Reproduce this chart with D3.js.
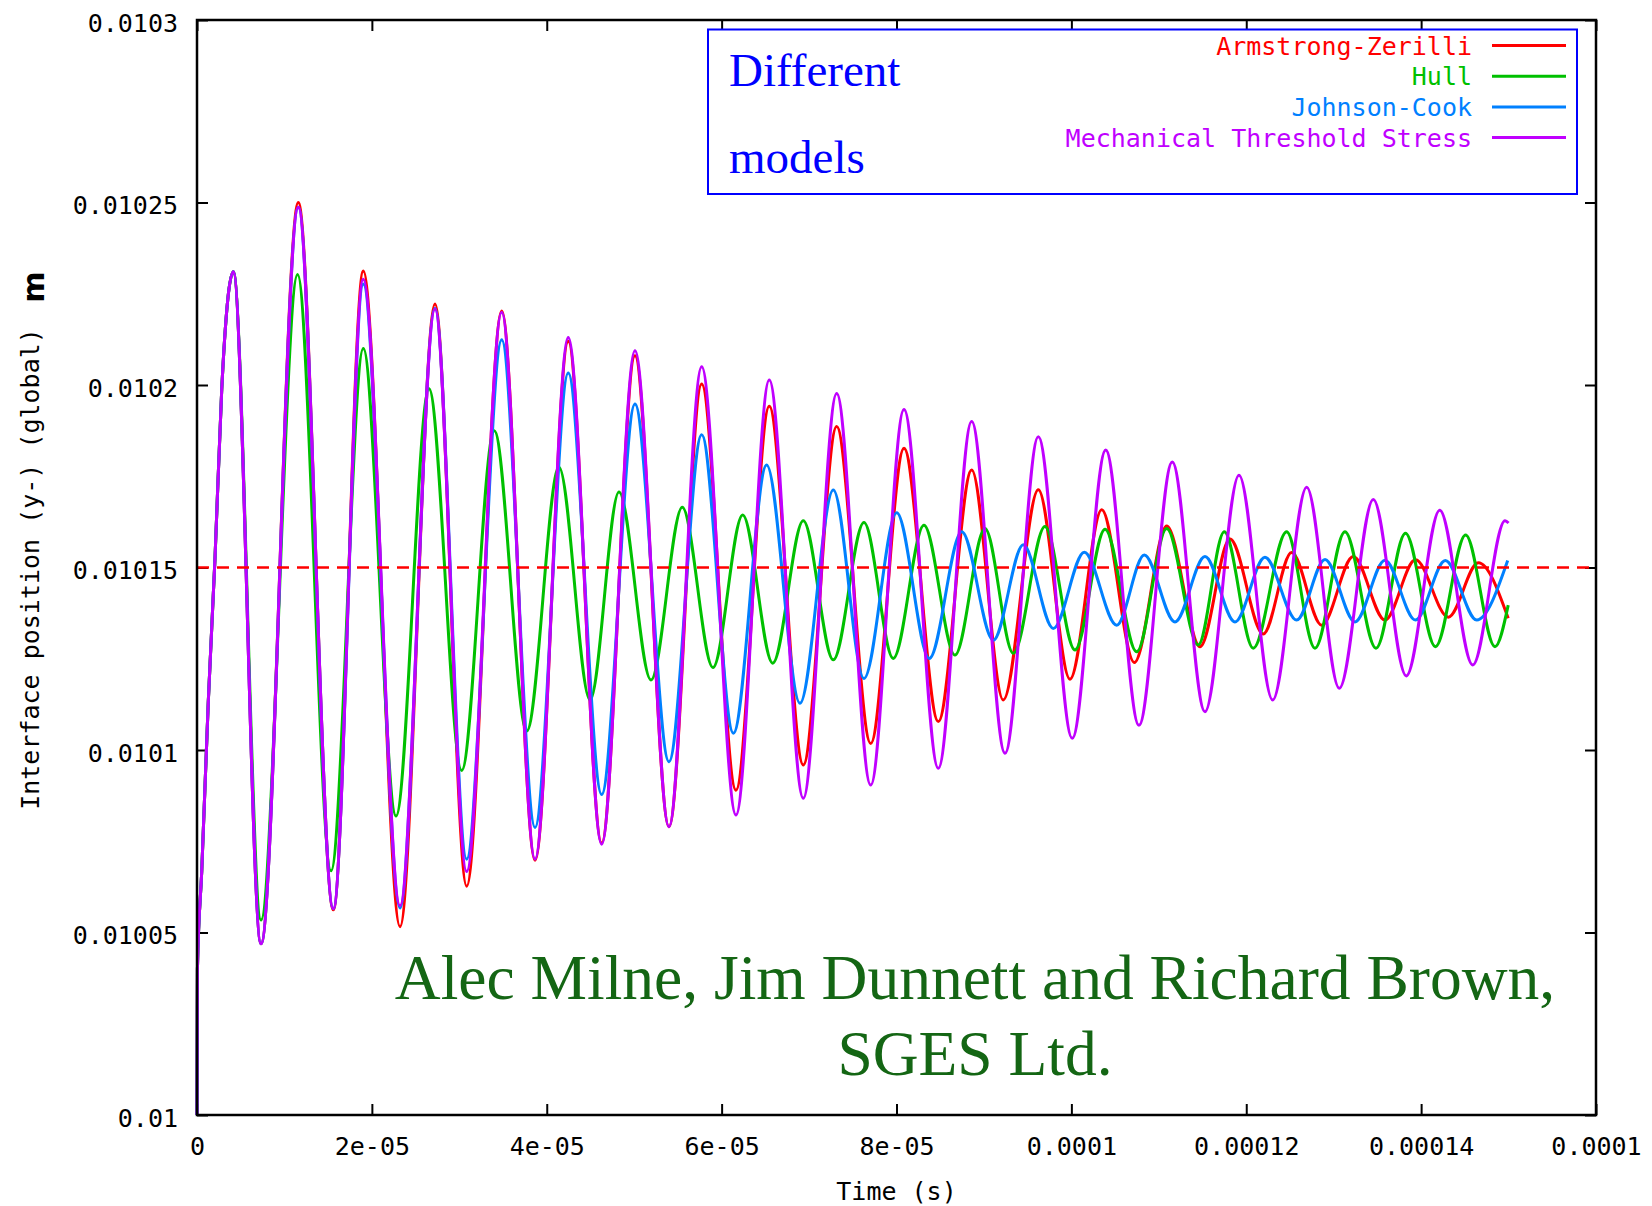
<!DOCTYPE html>
<html>
<head>
<meta charset="utf-8">
<script src="https://cdn.jsdelivr.net/npm/d3@7"></script>
<style>
  body { margin: 0; background: #fff; }
  text { font-family: "DejaVu Sans Mono", monospace; }
</style>
</head>
<body>
<div id="chart"></div>
<script>

// times in microseconds, values in metres (extrema)
var riseUs = [[0, 0.01000], [0.05, 0.01004], [0.54, 0.0100667], [1.29, 0.0101132], [2.06, 0.0101526], [2.83, 0.0101989]];

var armstrongZerilli = [
  [4.15, 0.0102310], [7.32, 0.0100469], [11.59, 0.0102500], [15.59, 0.0100562],
  [19.02, 0.0102312], [23.22, 0.0100516], [27.22, 0.0102222], [30.84, 0.0100627],
  [34.85, 0.0102203], [38.66, 0.0100698], [42.46, 0.0102120], [46.28, 0.0100745],
  [50.09, 0.0102080], [53.98, 0.0100790], [57.72, 0.0102003], [61.64, 0.0100890],
  [65.45, 0.0101942], [69.34, 0.0100959], [73.16, 0.0101886], [77.05, 0.0101018],
  [80.86, 0.0101827], [84.78, 0.0101078], [88.60, 0.0101767], [92.21, 0.0101137],
  [96.22, 0.0101713], [99.84, 0.0101194], [103.47, 0.0101658], [107.20, 0.0101240],
  [110.90, 0.0101614], [114.71, 0.0101283], [118.14, 0.0101578], [121.94, 0.0101318],
  [125.19, 0.0101541], [128.63, 0.0101342], [132.24, 0.0101530], [135.86, 0.0101356],
  [139.35, 0.0101521], [143.11, 0.0101364], [146.54, 0.0101513], [149.96, 0.0101361]
];

var hull = [
  [4.15, 0.0102310], [7.32, 0.0100534], [11.50, 0.0102303], [15.33, 0.0100669],
  [19.02, 0.0102100], [22.76, 0.0100819], [26.53, 0.0101990], [30.27, 0.0100944],
  [34.00, 0.0101875], [37.71, 0.0101052], [41.40, 0.0101775], [44.95, 0.0101137],
  [48.26, 0.0101707], [51.92, 0.0101192], [55.50, 0.0101665], [59.01, 0.0101226],
  [62.41, 0.0101644], [65.84, 0.0101238], [69.34, 0.0101628], [72.77, 0.0101247],
  [76.28, 0.0101623], [79.63, 0.0101251], [83.14, 0.0101616], [86.69, 0.0101260],
  [90.12, 0.0101607], [93.36, 0.0101265], [96.98, 0.0101612], [100.41, 0.0101274],
  [103.85, 0.0101605], [107.47, 0.0101269], [110.90, 0.0101607], [114.51, 0.0101288],
  [117.49, 0.0101598], [120.80, 0.0101279], [124.62, 0.0101598], [127.86, 0.0101279],
  [131.29, 0.0101598], [134.84, 0.0101279], [138.21, 0.0101594], [141.64, 0.0101283],
  [145.09, 0.0101589], [148.45, 0.0101283], [149.96, 0.0101397]
];

var johnsonCook = [
  [4.15, 0.0102310], [7.32, 0.0100469], [11.59, 0.0102487], [15.59, 0.0100565],
  [19.02, 0.0102277], [23.22, 0.0100567], [27.22, 0.0102210], [30.84, 0.0100701],
  [34.85, 0.0102124], [38.66, 0.0100788], [42.46, 0.0102033], [46.28, 0.0100878],
  [50.09, 0.0101948], [53.98, 0.0100968], [57.72, 0.0101864], [61.34, 0.0101046],
  [65.15, 0.0101781], [68.96, 0.0101128], [72.77, 0.0101712], [76.28, 0.0101196],
  [80.02, 0.0101650], [83.75, 0.0101251], [87.46, 0.0101598], [91.07, 0.0101301],
  [94.50, 0.0101562], [97.93, 0.0101333], [101.48, 0.0101542], [105.18, 0.0101342],
  [108.34, 0.0101534], [111.85, 0.0101351], [115.28, 0.0101530], [118.71, 0.0101351],
  [122.14, 0.0101528], [125.76, 0.0101356], [129.01, 0.0101522], [132.44, 0.0101351],
  [135.86, 0.0101520], [139.35, 0.0101356], [142.77, 0.0101519], [146.36, 0.0101356],
  [149.90, 0.0101519]
];

var mts = [
  [4.15, 0.0102310], [7.32, 0.0100469], [11.59, 0.0102487], [15.59, 0.0100565],
  [19.02, 0.0102290], [23.22, 0.0100573], [27.22, 0.0102208], [30.84, 0.0100667],
  [34.85, 0.0102199], [38.66, 0.0100701], [42.46, 0.0102130], [46.28, 0.0100742],
  [50.09, 0.0102094], [53.98, 0.0100790], [57.72, 0.0102050], [61.64, 0.0100822],
  [65.45, 0.0102014], [69.34, 0.0100868], [73.16, 0.0101977], [77.05, 0.0100904],
  [80.86, 0.0101933], [84.78, 0.0100950], [88.60, 0.0101900], [92.41, 0.0100991],
  [96.22, 0.0101858], [100.10, 0.0101032], [103.93, 0.0101822], [107.73, 0.0101068],
  [111.54, 0.0101789], [115.28, 0.0101105], [119.17, 0.0101753], [123.02, 0.0101137],
  [126.91, 0.0101720], [130.64, 0.0101169], [134.53, 0.0101686], [138.30, 0.0101203],
  [142.13, 0.0101657], [145.90, 0.0101233], [149.60, 0.0101628], [150.00, 0.0101622]
];

var seriesNames = ["Armstrong-Zerilli", "Hull", "Johnson-Cook", "Mechanical Threshold Stress"];
var seriesData = [armstrongZerilli, hull, johnsonCook, mts];
var seriesColors = ["#ff0000", "#00c000", "#0080ff", "#c000ff"];

var referenceLevel = 0.01015;

var xTicks = [0, 0.00002, 0.00004, 0.00006, 0.00008, 0.0001, 0.00012, 0.00014, 0.00016];
var xTickLabels = ["0", "2e-05", "4e-05", "6e-05", "8e-05", "0.0001", "0.00012", "0.00014", "0.0001"];
var yTicks = [0.01, 0.01005, 0.0101, 0.01015, 0.0102, 0.01025, 0.0103];
var yTickLabels = ["0.01", "0.01005", "0.0101", "0.01015", "0.0102", "0.01025", "0.0103"];

var US = 1e-6;

var W = 1652, H = 1206;
var plot = {left: 197, right: 1596, top: 20, bottom: 1115};

var svg = d3.select("#chart")
  .append("svg")
    .attr("width", W)
    .attr("height", H)
    .style("display", "block");

svg.append("rect").attr("width", W).attr("height", H).attr("fill", "#fff");

var x = d3.scaleLinear()
  .domain([0, 0.00016])
  .range([plot.left, plot.right]);

var y = d3.scaleLinear()
  .domain([0.01, 0.0103])
  .range([plot.bottom, plot.top]);

// axes, ticks pointing inwards on all four sides (gnuplot style)
var bottomAxis = svg.append("g")
  .attr("transform", "translate(0," + plot.bottom + ")")
  .call(d3.axisBottom(x).tickValues(xTicks).tickSize(-11)
    .tickFormat(function(d, i) { return xTickLabels[i]; }));
bottomAxis.selectAll("text")
  .attr("y", 40).attr("dy", 0)
  .style("font-size", "25px").attr("fill", "#000");

var leftAxis = svg.append("g")
  .attr("transform", "translate(" + plot.left + ",0)")
  .call(d3.axisLeft(y).tickValues(yTicks).tickSize(-11)
    .tickFormat(function(d, i) { return yTickLabels[i]; }));
leftAxis.selectAll("text")
  .attr("x", -19).attr("dy", 0).attr("y", 11)
  .style("font-size", "25px").attr("fill", "#000");

svg.append("g")
  .attr("transform", "translate(0," + plot.top + ")")
  .call(d3.axisTop(x).tickValues(xTicks).tickSize(-11).tickFormat(""));

svg.append("g")
  .attr("transform", "translate(" + plot.right + ",0)")
  .call(d3.axisRight(y).tickValues(yTicks).tickSize(-11).tickFormat(""));

svg.selectAll(".domain").remove();
svg.selectAll(".tick line").attr("stroke", "#000").attr("stroke-width", 2);

// curves
var line = d3.line()
  .x(function(d) { return x(d[0] * US); })
  .y(function(d) { return y(d[1]); })
  .curve(d3.curveMonotoneX);

svg.append("g")
  .selectAll("path")
  .data(seriesData)
  .enter()
  .append("path")
    .attr("d", function(d) { return line(riseUs.concat(d)); })
    .attr("fill", "none")
    .attr("stroke", function(d, i) { return seriesColors[i]; })
    .attr("stroke-width", 3)
    .attr("stroke-linejoin", "round");

// dashed reference level
svg.append("line")
  .attr("x1", x(0)).attr("x2", x(0.00016))
  .attr("y1", y(referenceLevel)).attr("y2", y(referenceLevel))
  .attr("stroke", "#ff0000")
  .attr("stroke-width", 2.5)
  .attr("stroke-dasharray", "12,8");

// frame
svg.append("rect")
  .attr("x", plot.left).attr("y", plot.top)
  .attr("width", plot.right - plot.left)
  .attr("height", plot.bottom - plot.top)
  .attr("fill", "none")
  .attr("stroke", "#000")
  .attr("stroke-width", 2.5);

// axis titles
svg.append("text")
  .attr("text-anchor", "middle")
  .attr("x", (plot.left + plot.right) / 2)
  .attr("y", 1200)
  .style("font-size", "25px")
  .text("Time (s)");

svg.append("text")
  .attr("text-anchor", "middle")
  .attr("transform", "translate(39,569) rotate(-90)")
  .style("font-size", "25px")
  .text("Interface position (y-) (global)");

svg.append("text")
  .attr("text-anchor", "middle")
  .attr("transform", "translate(44,287) rotate(-90)")
  .style("font-family", "'DejaVu Sans', sans-serif")
  .style("font-weight", "bold")
  .style("font-size", "30px")
  .text("m");

// legend
var legend = svg.append("g");
legend.append("rect")
  .attr("x", 708).attr("y", 29.5)
  .attr("width", 869).attr("height", 164.5)
  .attr("fill", "#fff")
  .attr("stroke", "#0000ff")
  .attr("stroke-width", 2);

legend.selectAll("text.entry")
  .data(seriesNames)
  .enter().append("text")
    .attr("class", "entry")
    .attr("text-anchor", "end")
    .attr("x", 1472)
    .attr("y", function(d, i) { return 45.5 + i * 30.7 + 9; })
    .attr("fill", function(d, i) { return seriesColors[i]; })
    .style("font-size", "25px")
    .text(function(d) { return d; });

legend.selectAll("line")
  .data(seriesNames)
  .enter().append("line")
    .attr("x1", 1492).attr("x2", 1566)
    .attr("y1", function(d, i) { return 45.5 + i * 30.7; })
    .attr("y2", function(d, i) { return 45.5 + i * 30.7; })
    .attr("stroke", function(d, i) { return seriesColors[i]; })
    .attr("stroke-width", 3);

legend.selectAll("text.note")
  .data(["Different", "models"])
  .enter().append("text")
    .attr("class", "note")
    .attr("x", 729)
    .attr("y", function(d, i) { return 86 + i * 87; })
    .attr("fill", "#0000ff")
    .style("font-family", "'Liberation Serif', serif")
    .style("font-size", "47px")
    .text(function(d) { return d; });

// credit
svg.selectAll("text.credit")
  .data(["Alec Milne, Jim Dunnett and Richard Brown,", "SGES Ltd."])
  .enter().append("text")
    .attr("class", "credit")
    .attr("text-anchor", "middle")
    .attr("x", 975)
    .attr("y", function(d, i) { return 999 + i * 76; })
    .attr("fill", "#146614")
    .style("font-family", "'Liberation Serif', serif")
    .style("font-size", "63.5px")
    .text(function(d) { return d; });

</script>
</body>
</html>
